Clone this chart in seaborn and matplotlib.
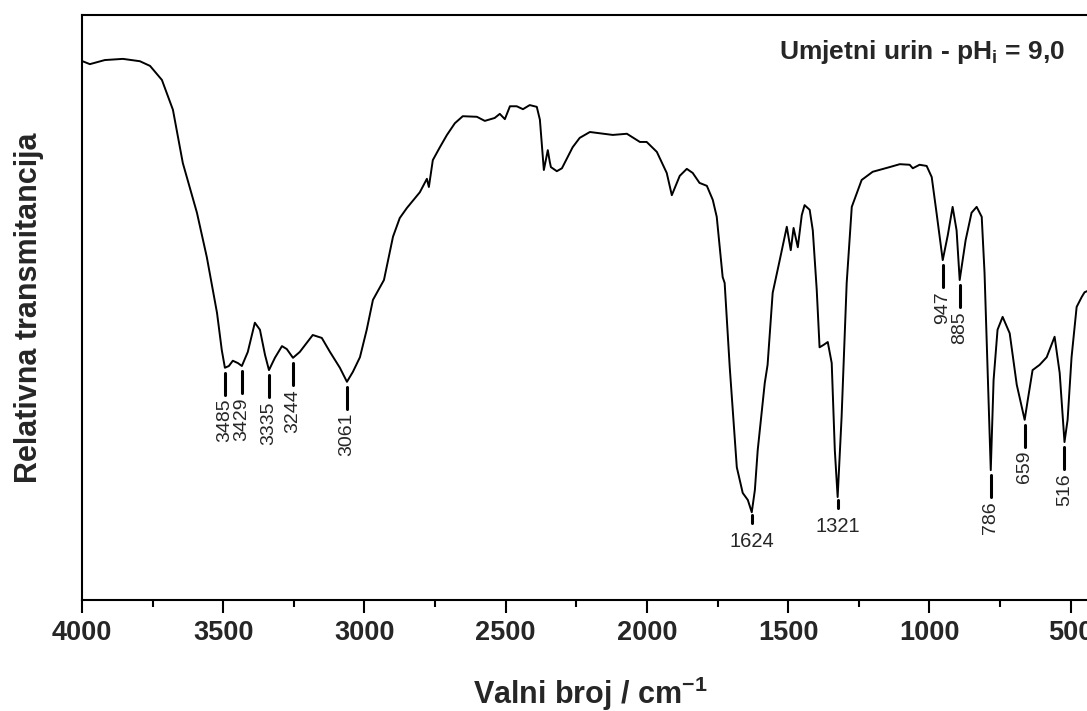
import numpy as np
import pandas as pd
import seaborn as sns
from matplotlib import pyplot as plt
from matplotlib.ticker import MultipleLocator

# FTIR spectrum (wavenumber in cm-1, relative transmittance 0-100)
wavenumber = [
    3998, 3972, 3919, 3855, 3795, 3759, 3717, 3678, 3643, 3593,
    3558, 3522, 3505, 3494, 3480, 3466, 3448, 3434, 3413, 3388,
    3370, 3352, 3338, 3317, 3292, 3275, 3253, 3229, 3183, 3151,
    3122, 3087, 3062, 3041, 3016, 2992, 2970, 2931, 2899, 2875,
    2850, 2804, 2779, 2772, 2758, 2733, 2708, 2680, 2652, 2602,
    2574, 2539, 2521, 2503, 2485, 2461, 2439, 2415, 2390, 2379,
    2372, 2365, 2358, 2351, 2344, 2340, 2319, 2301, 2263, 2238,
    2202, 2121, 2071, 2025, 2001, 1965, 1930, 1912, 1884, 1859,
    1838, 1814, 1788, 1767, 1753, 1732, 1725, 1707, 1682, 1661,
    1643, 1629, 1618, 1608, 1583, 1573, 1555, 1530, 1505, 1491,
    1481, 1466, 1452, 1442, 1424, 1413, 1399, 1389, 1375, 1360,
    1346, 1335, 1325, 1311, 1293, 1275, 1240, 1201, 1141, 1105,
    1070, 1059, 1035, 1010, 992, 975, 953, 935, 918, 904,
    893, 872, 851, 833, 815, 805, 794, 783, 773, 759,
    741, 716, 691, 663, 652, 635, 610, 585, 557, 539,
    522, 511, 497, 479, 461, 451, 433, 398,
]
transmittance = [
    92.1, 91.6, 92.3, 92.5, 92.1, 91.3, 88.9, 83.8, 74.7, 66.2,
    58.6, 49.1, 42.7, 39.7, 40.0, 40.9, 40.5, 40.0, 42.4, 47.4,
    46.2, 41.9, 39.3, 41.4, 43.4, 42.9, 41.4, 42.4, 45.3, 44.8,
    42.4, 39.7, 37.3, 39.0, 41.5, 46.2, 51.3, 54.7, 62.1, 65.3,
    67.0, 69.7, 72.0, 70.6, 75.2, 77.4, 79.5, 81.5, 82.7, 82.6,
    81.9, 82.4, 83.1, 82.2, 84.4, 84.4, 83.9, 84.6, 84.3, 82.1,
    77.8, 73.5, 75.2, 76.9, 74.9, 74.0, 73.3, 73.8, 77.4, 79.0,
    80.0, 79.5, 79.7, 78.3, 78.3, 76.6, 73.0, 69.2, 72.5, 73.7,
    73.0, 71.3, 70.8, 68.4, 65.5, 55.2, 54.2, 39.8, 22.7, 18.3,
    17.1, 15.0, 18.8, 25.6, 37.1, 40.2, 52.5, 58.1, 63.8, 59.8,
    63.6, 60.3, 65.8, 67.5, 66.7, 63.2, 53.0, 43.2, 43.6, 44.1,
    40.5, 25.6, 17.6, 31.3, 54.2, 67.2, 71.8, 73.2, 74.0, 74.5,
    74.4, 73.8, 74.4, 74.2, 72.3, 66.2, 58.1, 62.4, 67.2, 63.2,
    54.7, 61.5, 66.2, 67.2, 65.5, 55.9, 38.8, 22.2, 37.6, 46.2,
    48.4, 45.6, 36.8, 30.8, 34.2, 39.3, 40.2, 41.5, 45.0, 38.8,
    27.0, 30.8, 41.5, 50.1, 51.8, 52.6, 53.0, 53.3,
]

# labelled bands
peak_wn = [3485, 3429, 3335, 3244, 3061, 1624, 1321, 947, 885, 786, 659, 516]
horizontal_peaks = [1624, 1321]

title_text = "Umjetni urin - pH$_\\mathrm{i}$ = 9,0"
x_label = "Valni broj / cm$^{-1}$"
y_label = "Relativna transmitancija"

sns.set_theme(style="ticks")
plt.rcParams["font.family"] = ["Liberation Sans", "DejaVu Sans"]
plt.rcParams["mathtext.fontset"] = "custom"
plt.rcParams["mathtext.rm"] = "Liberation Sans:bold"
plt.rcParams["mathtext.bf"] = "Liberation Sans:bold"
plt.rcParams["mathtext.it"] = "Liberation Sans:bold:italic"

df = pd.DataFrame({"wn": wavenumber, "T": transmittance})

fig = plt.figure(figsize=(10.87, 7.11), dpi=100)
# axis runs to 400 cm-1, the right part is cropped off like in the source image
ax = fig.add_axes([0.0754, 0.1561, 0.9356, 0.8228])

sns.lineplot(data=df, x="wn", y="T", ax=ax, sort=False, estimator=None,
             color="black", linewidth=1.4)

ax.set_xlim(4000, 400)
ax.set_ylim(0, 100)
ax.set_yticks([])
ax.xaxis.set_major_locator(MultipleLocator(500))
ax.xaxis.set_minor_locator(MultipleLocator(250))
ax.tick_params(axis="x", which="major", direction="out", length=9.5,
               width=1.5, pad=5, labelsize=19.5, color="black")
ax.tick_params(axis="x", which="minor", direction="out", length=5,
               width=1.5, color="black")
for lab in ax.get_xticklabels():
    lab.set_fontweight("bold")
for sp in ax.spines.values():
    sp.set_visible(True)
    sp.set_linewidth(1.5)
    sp.set_color("black")

ax.set_xlabel(x_label, fontsize=22, fontweight="bold")
ax.xaxis.set_label_coords(0.5, -0.128)
ax.set_ylabel(y_label, fontsize=22, fontweight="bold")
ax.yaxis.set_label_coords(-0.037, 0.5)

ax.text(0.9666, 0.937, title_text, transform=ax.transAxes, ha="right",
        va="center", fontsize=19, fontweight="bold")

# peak markers and labels, hung just below the local minimum of the band
px = 100 / 585  # one pixel in data units
xs = np.array(wavenumber)
ys = np.array(transmittance)
for wn in peak_wn:
    idx = np.where(np.abs(xs - wn) <= 15)[0]
    i_min = idx[np.argmin(ys[idx])]
    x0, y0 = xs[i_min], ys[i_min]
    if wn in horizontal_peaks:
        top = y0 - 3 * px
        bottom = top - 8 * px
        ax.plot([x0, x0], [top, bottom], color="black", linewidth=2.2)
        ax.text(x0, bottom - 9 * px, str(wn), ha="center", va="top",
                fontsize=14.5)
    else:
        top = y0 - 5 * px
        bottom = top - 22 * px
        ax.plot([x0, x0], [top, bottom], color="black", linewidth=2.2)
        ax.text(x0, bottom - 4 * px, str(wn), ha="center", va="top",
                rotation=90, fontsize=14)

fig.savefig("out.png", dpi=100)
